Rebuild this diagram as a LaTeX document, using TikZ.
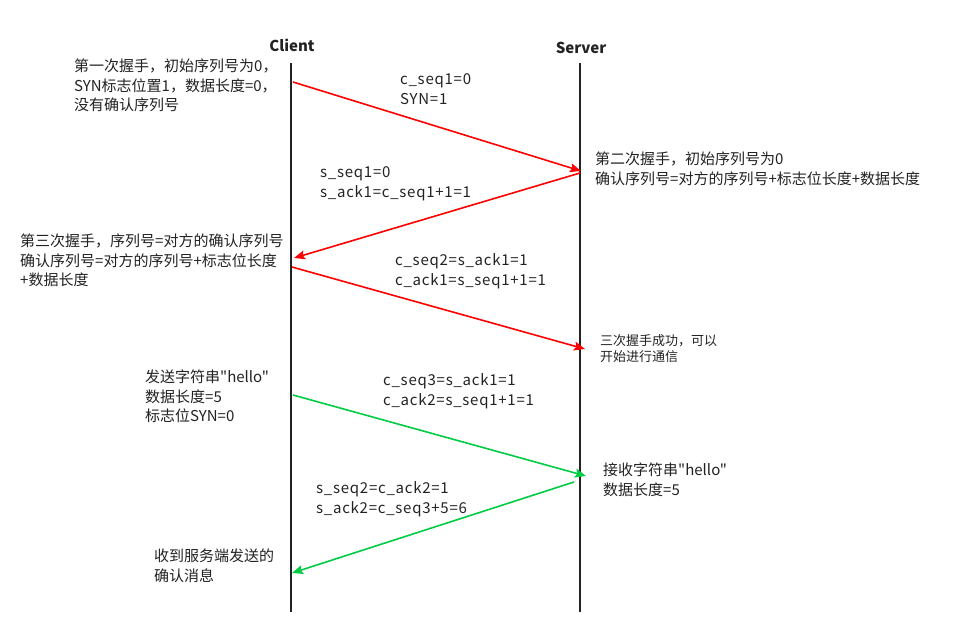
\documentclass[tikz,border=0pt]{standalone}
\usepackage{fontspec}
\setmainfont{Noto Sans CJK SC}[Ligatures=TeXOff]
\newfontfamily\labfont{Noto Sans CJK SC}[Ligatures=TeXOff,LetterSpace=5]
\usetikzlibrary{arrows.meta,positioning}
\definecolor{HRed}{HTML}{FF0000}
\definecolor{HGreen}{HTML}{00CC44}
\definecolor{HText}{HTML}{222222}
\tikzset{
    lifeline/.style = {draw=HText, line width=1.9pt},
    msg/.style = {draw, line width=1.6pt, -{Stealth[length=11pt,width=9pt,inset=2pt]}},
    note/.style = {anchor=north west, inner sep=0pt, align=left, text=HText,
        font=\fontsize{15}{19.5}\selectfont},
    msglabel/.style = {note, font=\labfont\fontsize{15}{20}\selectfont},
    smallnote/.style = {note, font=\fontsize{13}{16.5}\selectfont},
    head/.style = {text=HText, inner sep=0pt, font=\bfseries\fontsize{15}{18}\selectfont}
}

\begin{document}
\begin{tikzpicture}[x=1pt,y=-1pt]
  \useasboundingbox (0,0) rectangle (968,640);
  % lifelines
  \foreach \name/\xx/\yy/\txt in {client/291/45/Client,server/580/48/Server}{
    \node[head] (\name) at (\xx+1,\yy) {\txt};
    \coordinate (\name top) at (\xx,63);
    \coordinate (\name bot) at (\xx,612);
    \draw[lifeline] (\name top) -- (\name bot);
  };
  % message ends
  \coordinate (m1a) at (293,82);  \coordinate (m1b) at (581,171);
  \coordinate (m2a) at (580,173); \coordinate (m2b) at (294,258);
  \coordinate (m3a) at (292,267); \coordinate (m3b) at (585,349);
  \coordinate (m4a) at (293,395); \coordinate (m4b) at (586,476);
  \coordinate (m5a) at (574,482); \coordinate (m5b) at (292,573);
  \draw[msg,HRed] (m1a) -- (m1b);
  \draw[msg,HRed] (m2a) -- (m2b);
  \draw[msg,HRed] (m3a) -- (m3b);
  \draw[msg,HGreen] (m4a) -- (m4b);
  \draw[msg,HGreen] (m5a) -- (m5b);
  % labels on the messages
  \node[msglabel] (lab1) at (400,73) {c\_seq1=0\\SYN=1};
  \node[msglabel] (lab2) at (320,166) {s\_seq1=0\\s\_ack1=c\_seq1+1=1};
  \node[msglabel] (lab3) at (395,253) {c\_seq2=s\_ack1=1\\c\_ack1=s\_seq1+1=1};
  \node[msglabel] (lab4) at (383,373) {c\_seq3=s\_ack1=1\\c\_ack2=s\_seq1+1=1};
  \node[msglabel] (lab5) at (316,481) {s\_seq2=c\_ack2=1\\s\_ack2=c\_seq3+5=6};
  % notes beside the lifelines
  \node[note] (first) at (74,59) {第一次握手，初始序列号为0，\\SYN标志位置1，数据长度=0，\\没有确认序列号};
  \node[note] (second) at (595,152) {第二次握手，初始序列号为0\\确认序列号=对方的序列号+标志位长度+数据长度};
  \node[note] (third) at (20,234) {第三次握手，序列号=对方的确认序列号\\确认序列号=对方的序列号+标志位长度\\+数据长度};
  \node[smallnote] (done) at (600,334) {三次握手成功，可以\\开始进行通信};
  \node[note] (send) at (145,370) {发送字符串"hello"\\数据长度=5\\标志位SYN=0};
  \node[note] (recv) at (603,463) {接收字符串"hello"\\数据长度=5};
  \node[note] (ack) at (154,549) {收到服务端发送的\\确认消息};
\end{tikzpicture}
\end{document}
